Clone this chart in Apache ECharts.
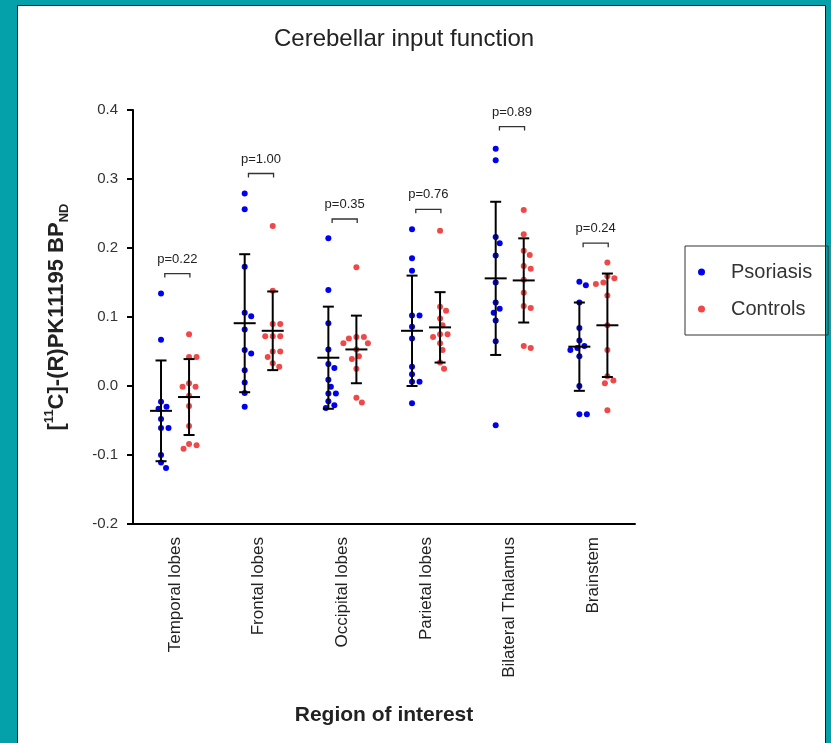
<!DOCTYPE html>
<html>
<head>
<meta charset="utf-8">
<script src="https://cdn.jsdelivr.net/npm/echarts@6/dist/echarts.min.js"></script>
<style>
  html,body{margin:0;padding:0;overflow:hidden;background:#05a1aa;width:831px;height:743px;}
  #frame{position:absolute;left:17px;top:5px;width:809px;height:760px;background:#fff;border:1px solid #1d1d1d;box-sizing:border-box;}
  #chart{position:absolute;left:0;top:0;width:831px;height:743px;}
</style>
</head>
<body>
<div id="frame"></div>
<div id="chart"></div>
<script>
// ---------- data ----------
const categories = ['Temporal lobes','Frontal lobes','Occipital lobes','Parietal lobes','Bilateral Thalamus','Brainstem'];
const seriesNames = ['Psoriasis','Controls'];
const psoriasis = [
  [0.134,0.067,-0.023,-0.030,-0.033,-0.048,-0.061,-0.061,-0.100,-0.111,-0.119],
  [0.279,0.256,0.173,0.106,0.101,0.082,0.052,0.047,0.023,0.005,-0.010,-0.030],
  [0.214,0.139,0.091,0.053,0.032,0.026,0.009,-0.001,-0.011,-0.011,-0.022,-0.028,-0.032],
  [0.227,0.185,0.167,0.102,0.102,0.086,0.069,0.028,0.017,0.006,0.006,-0.025],
  [0.344,0.327,0.216,0.207,0.189,0.150,0.121,0.112,0.106,0.095,0.065,-0.057],
  [0.151,0.146,0.121,0.084,0.066,0.058,0.055,0.052,0.043,0.000,-0.041,-0.041]
];
const controls = [
  [0.075,0.042,0.042,0.004,-0.001,-0.001,-0.014,-0.029,-0.058,-0.084,-0.086,-0.091],
  [0.232,0.138,0.090,0.090,0.072,0.072,0.072,0.050,0.050,0.042,0.033,0.028],
  [0.172,0.071,0.071,0.069,0.062,0.062,0.053,0.043,0.039,0.025,-0.017,-0.024],
  [0.225,0.115,0.109,0.098,0.088,0.075,0.075,0.071,0.062,0.052,0.034,0.025],
  [0.255,0.220,0.196,0.190,0.174,0.170,0.154,0.135,0.116,0.113,0.058,0.055],
  [0.179,0.159,0.156,0.150,0.148,0.131,0.088,0.052,0.014,0.008,0.004,-0.035]
];
const psoMean = [-0.036,0.091,0.041,0.080,0.156,0.057];
const psoSD   = [0.073,0.100,0.074,0.080,0.111,0.064];
const ctlMean = [-0.016,0.080,0.053,0.085,0.153,0.088];
const ctlSD   = [0.055,0.057,0.049,0.051,0.061,0.075];
const pLabels = ['p=0.22','p=1.00','p=0.35','p=0.76','p=0.89','p=0.24'];
const bracketY = [0.163,0.308,0.242,0.256,0.376,0.207];
const yMin = -0.2, yMax = 0.4, yStep = 0.1;

// ---------- layout ----------
const W = 831, H = 743;
const grid = {left:133, right:196, top:110, bottom:219};
const plotW = W - grid.left - grid.right, plotH = H - grid.top - grid.bottom;
const pxPerCat = plotW / categories.length;
const pxPerVal = plotH / (yMax - yMin);
const groupOffset = [-0.165, 0.17];
const FONT = '"Liberation Sans", Arial, sans-serif';

// simple beeswarm spreading (computed, in pixel space)
function swarm(values, center) {
  const D = 7.2;
  const order = values.map((v,i)=>i).sort((a,b)=>values[b]-values[a]);
  const placed = [];
  const out = new Array(values.length);
  order.forEach(i => {
    const py = values[i]*pxPerVal;
    let best = 0;
    for (let k = 0; k < 40; k++) {
      const cands = k === 0 ? [0] : [k*0.5, -k*0.5];
      let ok = null;
      for (const dx of cands) {
        if (placed.every(p => (p.x-dx)*(p.x-dx)+(p.y-py)*(p.y-py) >= D*D)) { ok = dx; break; }
      }
      if (ok !== null) { best = ok; break; }
    }
    placed.push({x:best, y:py});
    out[i] = [center + best/pxPerCat, values[i]];
  });
  return out;
}

const psoPts = [], ctlPts = [];
categories.forEach((c,i) => {
  swarm(psoriasis[i], i + groupOffset[0]).forEach(p => psoPts.push(p));
  swarm(controls[i], i + groupOffset[1]).forEach(p => ctlPts.push(p));
});
const errData = [];
categories.forEach((c,i) => {
  errData.push([i + groupOffset[0], psoMean[i], psoSD[i]]);
  errData.push([i + groupOffset[1], ctlMean[i], ctlSD[i]]);
});
const bracketData = categories.map((c,i) => [i, bracketY[i]]);

function renderErr(params, api) {
  const x = api.value(0), m = api.value(1), sd = api.value(2);
  const c = api.coord([x, m]), t = api.coord([x, m+sd]), b = api.coord([x, m-sd]);
  const hw = 11, cw = 5.5;
  const st = {stroke:'#000', lineWidth:2};
  return {type:'group', children:[
    {type:'line', shape:{x1:c[0], y1:t[1], x2:c[0], y2:b[1]}, style:st},
    {type:'line', shape:{x1:c[0]-cw, y1:t[1], x2:c[0]+cw, y2:t[1]}, style:st},
    {type:'line', shape:{x1:c[0]-cw, y1:b[1], x2:c[0]+cw, y2:b[1]}, style:st},
    {type:'line', shape:{x1:c[0]-hw, y1:c[1], x2:c[0]+hw, y2:c[1]}, style:st}
  ]};
}
function renderBracket(params, api) {
  const i = api.value(0), y = api.value(1);
  const l = api.coord([i - 0.12, y]), r = api.coord([i + 0.18, y]);
  const st = {stroke:'#333', lineWidth:1.3, fill:null};
  return {type:'group', children:[
    {type:'polyline', shape:{points:[[l[0], l[1]+4],[l[0], l[1]],[r[0], r[1]],[r[0], r[1]+4]]}, style:st},
    {type:'text', style:{text:pLabels[params.dataIndex], x:(l[0]+r[0])/2, y:l[1]-8,
      align:'center', verticalAlign:'bottom', fontSize:13, fontFamily:FONT, fill:'#222'}}
  ]};
}

const chart = echarts.init(document.getElementById('chart'), null, {renderer:'canvas'});
chart.setOption({
  backgroundColor:'transparent',
  animation:false,
  textStyle:{fontFamily:FONT},
  title:{text:'Cerebellar input function', left:274, top:27, padding:0,
    textStyle:{fontSize:24, fontWeight:'normal', color:'#222', fontFamily:FONT}},
  legend:{data:seriesNames, orient:'vertical', left:685, top:246,
    borderColor:'#333', borderWidth:1, padding:[16,16,16,13], itemGap:17,
    itemWidth:7, itemHeight:7, icon:'circle',
    textStyle:{fontSize:20, color:'#333', padding:[0,0,0,21], fontFamily:FONT}},
  grid:{left:grid.left, right:grid.right, top:grid.top, bottom:grid.bottom, containLabel:false},
  xAxis:[
    {type:'category', data:categories, boundaryGap:true,
      axisLine:{onZero:false, lineStyle:{color:'#000', width:2}},
      axisTick:{alignWithLabel:true, length:8, lineStyle:{color:'#000', width:2}},
      axisLabel:{rotate:90, fontSize:17, color:'#222', margin:13, fontFamily:FONT},
      splitLine:{show:false},
      name:'Region of interest', nameLocation:'middle', nameGap:181,
      nameTextStyle:{fontSize:21, fontWeight:'bold', color:'#222', fontFamily:FONT}},
    {type:'value', min:-0.5, max:5.5, show:false, splitLine:{show:false},
      axisLine:{onZero:false}}
  ],
  yAxis:{type:'value', min:yMin, max:yMax, interval:yStep,
    axisLine:{show:true, onZero:false, lineStyle:{color:'#000', width:2}},
    axisTick:{show:true, length:6, lineStyle:{color:'#000', width:2}},
    axisLabel:{fontSize:15, color:'#333', margin:15, fontFamily:FONT,
      formatter:v => v.toFixed(1)},
    splitLine:{show:false},
    name:'[{sup|11}C]-(R)PK11195 BP{sub|ND}', nameLocation:'middle', nameRotate:90, nameGap:62,
    nameTextStyle:{fontSize:22, fontWeight:'bold', color:'#222', fontFamily:FONT, lineHeight:28,
      rich:{
        sup:{fontSize:13, fontWeight:'bold', color:'#222', verticalAlign:'top', lineHeight:15, fontFamily:FONT},
        sub:{fontSize:13, fontWeight:'bold', color:'#222', verticalAlign:'bottom', lineHeight:13, fontFamily:FONT}
      }}},
  series:[
    {name:seriesNames[0], type:'scatter', xAxisIndex:1, data:psoPts, symbol:'circle', symbolSize:6,
      itemStyle:{color:'#0000f0', opacity:1}, z:2},
    {name:seriesNames[1], type:'scatter', xAxisIndex:1, data:ctlPts, symbol:'circle', symbolSize:6,
      itemStyle:{color:'#f04848', opacity:1}, z:2},
    {name:'meanSD', type:'custom', xAxisIndex:1, data:errData, renderItem:renderErr, z:5, silent:true},
    {name:'pvalues', type:'custom', xAxisIndex:1, data:bracketData, renderItem:renderBracket, z:5, silent:true}
  ]
});
</script>
</body>
</html>
